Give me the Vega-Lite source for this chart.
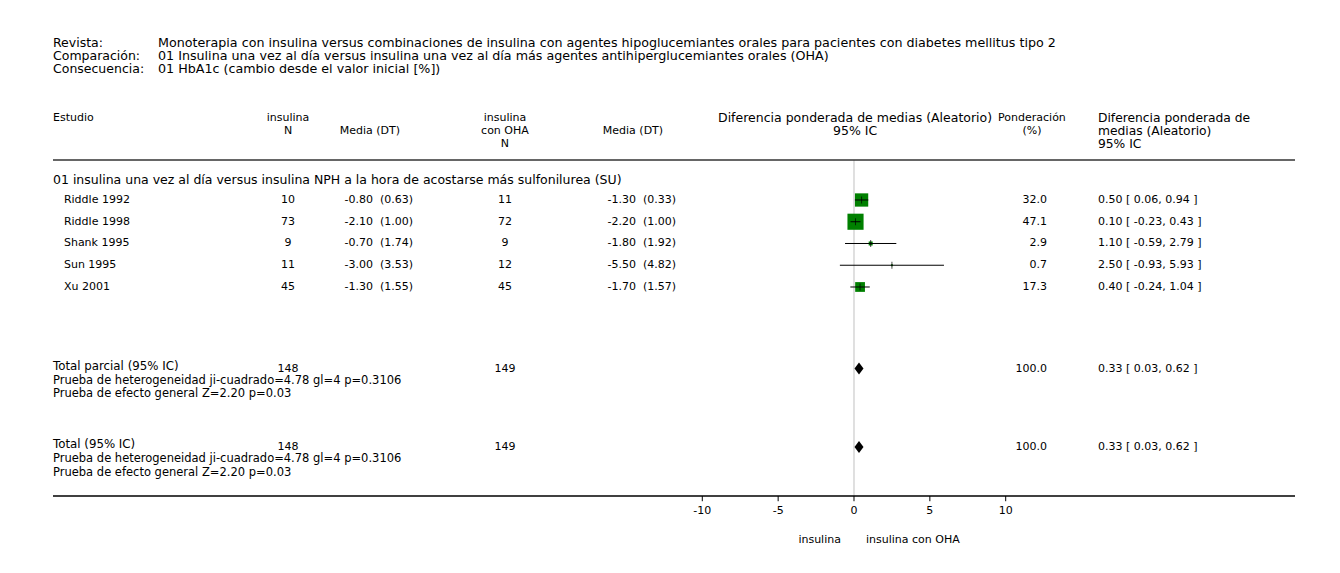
{
  "$schema": "https://vega.github.io/schema/vega-lite/v6.json",
  "width": 1242,
  "height": 496,
  "autosize": {"type": "none"},
  "padding": {"left": 53, "right": 45, "top": 0, "bottom": 77},
  "background": "white",
  "config": {
    "view": {"stroke": null},
    "text": {"font": "DejaVu Sans", "fontSize": 11, "color": "#000000", "baseline": "middle"}
  },
  "datasets": {
    "rows": [
      {"kind": "study", "row": 1, "name": "Riddle 1992", "n1": "10", "m1": "-0.80", "s1": "(0.63)", "n2": "11", "m2": "-1.30", "s2": "(0.33)", "wtxt": "32.0", "weight": 32.0, "est": 0.50, "lo": 0.06, "hi": 0.94, "ci": "0.50 [ 0.06, 0.94 ]"},
      {"kind": "study", "row": 2, "name": "Riddle 1998", "n1": "73", "m1": "-2.10", "s1": "(1.00)", "n2": "72", "m2": "-2.20", "s2": "(1.00)", "wtxt": "47.1", "weight": 47.1, "est": 0.10, "lo": -0.23, "hi": 0.43, "ci": "0.10 [ -0.23, 0.43 ]"},
      {"kind": "study", "row": 3, "name": "Shank 1995", "n1": "9", "m1": "-0.70", "s1": "(1.74)", "n2": "9", "m2": "-1.80", "s2": "(1.92)", "wtxt": "2.9", "weight": 2.9, "est": 1.10, "lo": -0.59, "hi": 2.79, "ci": "1.10 [ -0.59, 2.79 ]"},
      {"kind": "study", "row": 4, "name": "Sun 1995", "n1": "11", "m1": "-3.00", "s1": "(3.53)", "n2": "12", "m2": "-5.50", "s2": "(4.82)", "wtxt": "0.7", "weight": 0.7, "est": 2.50, "lo": -0.93, "hi": 5.93, "ci": "2.50 [ -0.93, 5.93 ]"},
      {"kind": "study", "row": 5, "name": "Xu 2001", "n1": "45", "m1": "-1.30", "s1": "(1.55)", "n2": "45", "m2": "-1.70", "s2": "(1.57)", "wtxt": "17.3", "weight": 17.3, "est": 0.40, "lo": -0.24, "hi": 1.04, "ci": "0.40 [ -0.24, 1.04 ]"},
      {"kind": "total", "row": 8.75, "name": "Total parcial (95% IC)", "n1": "148", "m1": "", "s1": "", "n2": "149", "m2": "", "s2": "", "wtxt": "100.0", "weight": 100.0, "est": 0.33, "lo": 0.03, "hi": 0.62, "ci": "0.33 [ 0.03, 0.62 ]"},
      {"kind": "total", "row": 12.36, "name": "Total (95% IC)", "n1": "148", "m1": "", "s1": "", "n2": "149", "m2": "", "s2": "", "wtxt": "100.0", "weight": 100.0, "est": 0.33, "lo": 0.03, "hi": 0.62, "ci": "0.33 [ 0.03, 0.62 ]"}
    ],
    "ticks": [
      {"tick": -10, "label": "-10"},
      {"tick": -5, "label": "-5"},
      {"tick": 0, "label": "0"},
      {"tick": 5, "label": "5"},
      {"tick": 10, "label": "10"}
    ],
    "lines": [
      {"row": -6.22, "col": "lab", "text": "Revista:"},
      {"row": -6.22, "col": "tit", "text": "Monoterapia con insulina versus combinaciones de insulina con agentes hipoglucemiantes orales para pacientes con diabetes mellitus tipo 2"},
      {"row": -5.62, "col": "lab", "text": "Comparación:"},
      {"row": -5.62, "col": "tit", "text": "01 Insulina una vez al día versus insulina una vez al día más agentes antihiperglucemiantes orales (OHA)"},
      {"row": -5.02, "col": "lab", "text": "Consecuencia:"},
      {"row": -5.02, "col": "tit", "text": "01 HbA1c (cambio desde el valor inicial [%])"},
      {"row": -2.77, "col": "est", "text": "Estudio"},
      {"row": -2.77, "col": "n1h", "text": "insulina"},
      {"row": -2.17, "col": "n1h", "text": "N"},
      {"row": -2.17, "col": "m1h", "text": "Media (DT)"},
      {"row": -2.77, "col": "n2h", "text": "insulina"},
      {"row": -2.17, "col": "n2h", "text": "con OHA"},
      {"row": -1.58, "col": "n2h", "text": "N"},
      {"row": -2.17, "col": "m2h", "text": "Media (DT)"},
      {"row": -2.77, "col": "fh", "text": "Diferencia ponderada de medias (Aleatorio)"},
      {"row": -2.17, "col": "fh", "text": "95% IC"},
      {"row": -2.77, "col": "wh", "text": "Ponderación"},
      {"row": -2.17, "col": "wh", "text": "(%)"},
      {"row": -2.77, "col": "cih", "text": "Diferencia ponderada de"},
      {"row": -2.17, "col": "cih", "text": "medias (Aleatorio)"},
      {"row": -1.58, "col": "cih", "text": "95% IC"},
      {"row": 0.08, "col": "lab", "text": "01 insulina una vez al día versus insulina NPH a la hora de acostarse más sulfonilurea (SU)"},
      {"row": 9.3, "col": "test", "text": "Prueba de heterogeneidad ji-cuadrado=4.78 gl=4 p=0.3106"},
      {"row": 9.94, "col": "test", "text": "Prueba de efecto general Z=2.20 p=0.03"},
      {"row": 12.93, "col": "test", "text": "Prueba de heterogeneidad ji-cuadrado=4.78 gl=4 p=0.3106"},
      {"row": 13.57, "col": "test", "text": "Prueba de efecto general Z=2.20 p=0.03"},
      {"row": 16.63, "col": "dirL", "text": "insulina"},
      {"row": 16.63, "col": "dirR", "text": "insulina con OHA"}
    ]
  },
  "layer": [
    {
      "data": {"name": "ticks"},
      "transform": [{"filter": "datum.tick === 0"}],
      "mark": {"type": "rule", "color": "#c0c0c0", "strokeWidth": 1},
      "encoding": {
        "x": {"field": "tick", "type": "quantitative", "scale": {"domain": [-52.8, 29.07], "nice": false, "zero": false}, "axis": null},
        "y": {"datum": -0.839, "type": "quantitative", "scale": {"domain": [-8.195, 14.61], "reverse": true, "nice": false, "zero": false}, "axis": null},
        "y2": {"datum": 14.61}
      }
    },
    {
      "data": {"name": "ticks"},
      "transform": [{"filter": "datum.tick === 0"}],
      "mark": {"type": "rule", "color": "#333333", "strokeWidth": 1.6},
      "encoding": {
        "x": {"datum": -52.8, "type": "quantitative", "scale": {"domain": [-52.8, 29.07], "nice": false, "zero": false}, "axis": null},
        "x2": {"datum": 29.07},
        "y": {"datum": -0.839, "type": "quantitative", "scale": {"domain": [-8.195, 14.61], "reverse": true, "nice": false, "zero": false}, "axis": null}
      }
    },
    {
      "data": {"name": "ticks"},
      "transform": [{"filter": "datum.tick === 0"}],
      "mark": {"type": "rule", "color": "#000000", "strokeWidth": 1.6},
      "encoding": {
        "x": {"datum": -52.8, "type": "quantitative", "scale": {"domain": [-52.8, 29.07], "nice": false, "zero": false}, "axis": null},
        "x2": {"datum": 29.07},
        "y": {"datum": 14.61, "type": "quantitative", "scale": {"domain": [-8.195, 14.61], "reverse": true, "nice": false, "zero": false}, "axis": null}
      }
    },
    {
      "data": {"name": "ticks"},
      "mark": {"type": "rule", "color": "#000000", "strokeWidth": 1},
      "encoding": {
        "x": {"field": "tick", "type": "quantitative", "scale": {"domain": [-52.8, 29.07], "nice": false, "zero": false}, "axis": null},
        "y": {"datum": 14.61, "type": "quantitative", "scale": {"domain": [-8.195, 14.61], "reverse": true, "nice": false, "zero": false}, "axis": null},
        "y2": {"datum": 14.85}
      }
    },
    {
      "data": {"name": "ticks"},
      "mark": {"type": "text", "align": "center"},
      "encoding": {
        "x": {"field": "tick", "type": "quantitative", "scale": {"domain": [-52.8, 29.07], "nice": false, "zero": false}, "axis": null},
        "y": {"datum": 15.3, "type": "quantitative", "scale": {"domain": [-8.195, 14.61], "reverse": true, "nice": false, "zero": false}, "axis": null},
        "text": {"field": "label"}
      }
    },
    {
      "data": {"name": "rows"},
      "transform": [{"filter": "datum.kind === 'study'"}],
      "mark": {"type": "square", "color": "#008000", "opacity": 1, "filled": true},
      "encoding": {
        "x": {"field": "est", "type": "quantitative", "scale": {"domain": [-52.8, 29.07], "nice": false, "zero": false}, "axis": null},
        "y": {"field": "row", "type": "quantitative", "scale": {"domain": [-8.195, 14.61], "reverse": true, "nice": false, "zero": false}, "axis": null},
        "size": {"field": "weight", "type": "quantitative", "scale": {"domain": [0, 47.1], "range": [0, 260]}, "legend": null}
      }
    },
    {
      "data": {"name": "rows"},
      "transform": [{"filter": "datum.kind === 'study'"}],
      "mark": {"type": "rule", "color": "#000000", "strokeWidth": 1},
      "encoding": {
        "x": {"field": "lo", "type": "quantitative", "scale": {"domain": [-52.8, 29.07], "nice": false, "zero": false}, "axis": null},
        "x2": {"field": "hi"},
        "y": {"field": "row", "type": "quantitative", "scale": {"domain": [-8.195, 14.61], "reverse": true, "nice": false, "zero": false}, "axis": null}
      }
    },
    {
      "data": {"name": "rows"},
      "transform": [{"filter": "datum.kind === 'study'"}],
      "mark": {"type": "tick", "orient": "vertical", "color": "#000000", "size": 7, "thickness": 1},
      "encoding": {
        "x": {"field": "est", "type": "quantitative", "scale": {"domain": [-52.8, 29.07], "nice": false, "zero": false}, "axis": null},
        "y": {"field": "row", "type": "quantitative", "scale": {"domain": [-8.195, 14.61], "reverse": true, "nice": false, "zero": false}, "axis": null}
      }
    },
    {
      "data": {"name": "rows"},
      "transform": [{"filter": "datum.kind === 'total'"}],
      "mark": {"type": "point", "shape": "M0,-1L0.75,0L0,1L-0.75,0Z", "size": 144, "filled": true, "color": "#000000", "opacity": 1},
      "encoding": {
        "x": {"field": "est", "type": "quantitative", "scale": {"domain": [-52.8, 29.07], "nice": false, "zero": false}, "axis": null},
        "y": {"field": "row", "type": "quantitative", "scale": {"domain": [-8.195, 14.61], "reverse": true, "nice": false, "zero": false}, "axis": null}
      }
    },
    {
      "data": {"name": "rows"},
      "transform": [{"filter": "datum.kind === 'study'"}],
      "mark": {"type": "text", "align": "left"},
      "encoding": {
        "x": {"datum": -52.08, "type": "quantitative", "scale": {"domain": [-52.8, 29.07], "nice": false, "zero": false}, "axis": null},
        "y": {"field": "row", "type": "quantitative", "scale": {"domain": [-8.195, 14.61], "reverse": true, "nice": false, "zero": false}, "axis": null},
        "text": {"field": "name"}
      }
    },
    {
      "data": {"name": "rows"},
      "transform": [{"filter": "datum.kind === 'total'"}],
      "mark": {"type": "text", "align": "left", "fontSize": 11.8, "dy": -3},
      "encoding": {
        "x": {"datum": -52.8, "type": "quantitative", "scale": {"domain": [-52.8, 29.07], "nice": false, "zero": false}, "axis": null},
        "y": {"field": "row", "type": "quantitative", "scale": {"domain": [-8.195, 14.61], "reverse": true, "nice": false, "zero": false}, "axis": null},
        "text": {"field": "name"}
      }
    },
    {
      "data": {"name": "rows"},
      "mark": {"type": "text", "align": "center"},
      "encoding": {
        "x": {"datum": -37.31, "type": "quantitative", "scale": {"domain": [-52.8, 29.07], "nice": false, "zero": false}, "axis": null},
        "y": {"field": "row", "type": "quantitative", "scale": {"domain": [-8.195, 14.61], "reverse": true, "nice": false, "zero": false}, "axis": null},
        "text": {"field": "n1"}
      }
    },
    {
      "data": {"name": "rows"},
      "mark": {"type": "text", "align": "right"},
      "encoding": {
        "x": {"datum": -31.71, "type": "quantitative", "scale": {"domain": [-52.8, 29.07], "nice": false, "zero": false}, "axis": null},
        "y": {"field": "row", "type": "quantitative", "scale": {"domain": [-8.195, 14.61], "reverse": true, "nice": false, "zero": false}, "axis": null},
        "text": {"field": "m1"}
      }
    },
    {
      "data": {"name": "rows"},
      "mark": {"type": "text", "align": "left"},
      "encoding": {
        "x": {"datum": -31.25, "type": "quantitative", "scale": {"domain": [-52.8, 29.07], "nice": false, "zero": false}, "axis": null},
        "y": {"field": "row", "type": "quantitative", "scale": {"domain": [-8.195, 14.61], "reverse": true, "nice": false, "zero": false}, "axis": null},
        "text": {"field": "s1"}
      }
    },
    {
      "data": {"name": "rows"},
      "mark": {"type": "text", "align": "center"},
      "encoding": {
        "x": {"datum": -23.01, "type": "quantitative", "scale": {"domain": [-52.8, 29.07], "nice": false, "zero": false}, "axis": null},
        "y": {"field": "row", "type": "quantitative", "scale": {"domain": [-8.195, 14.61], "reverse": true, "nice": false, "zero": false}, "axis": null},
        "text": {"field": "n2"}
      }
    },
    {
      "data": {"name": "rows"},
      "mark": {"type": "text", "align": "right"},
      "encoding": {
        "x": {"datum": -14.37, "type": "quantitative", "scale": {"domain": [-52.8, 29.07], "nice": false, "zero": false}, "axis": null},
        "y": {"field": "row", "type": "quantitative", "scale": {"domain": [-8.195, 14.61], "reverse": true, "nice": false, "zero": false}, "axis": null},
        "text": {"field": "m2"}
      }
    },
    {
      "data": {"name": "rows"},
      "mark": {"type": "text", "align": "left"},
      "encoding": {
        "x": {"datum": -13.91, "type": "quantitative", "scale": {"domain": [-52.8, 29.07], "nice": false, "zero": false}, "axis": null},
        "y": {"field": "row", "type": "quantitative", "scale": {"domain": [-8.195, 14.61], "reverse": true, "nice": false, "zero": false}, "axis": null},
        "text": {"field": "s2"}
      }
    },
    {
      "data": {"name": "rows"},
      "mark": {"type": "text", "align": "right"},
      "encoding": {
        "x": {"datum": 12.72, "type": "quantitative", "scale": {"domain": [-52.8, 29.07], "nice": false, "zero": false}, "axis": null},
        "y": {"field": "row", "type": "quantitative", "scale": {"domain": [-8.195, 14.61], "reverse": true, "nice": false, "zero": false}, "axis": null},
        "text": {"field": "wtxt"}
      }
    },
    {
      "data": {"name": "rows"},
      "mark": {"type": "text", "align": "left"},
      "encoding": {
        "x": {"datum": 16.08, "type": "quantitative", "scale": {"domain": [-52.8, 29.07], "nice": false, "zero": false}, "axis": null},
        "y": {"field": "row", "type": "quantitative", "scale": {"domain": [-8.195, 14.61], "reverse": true, "nice": false, "zero": false}, "axis": null},
        "text": {"field": "ci"}
      }
    },
    {
      "data": {"name": "lines"},
      "transform": [{"filter": "datum.col === 'lab'"}],
      "mark": {"type": "text", "align": "left", "fontSize": 12.5},
      "encoding": {
        "x": {"datum": -52.8, "type": "quantitative", "scale": {"domain": [-52.8, 29.07], "nice": false, "zero": false}, "axis": null},
        "y": {"field": "row", "type": "quantitative", "scale": {"domain": [-8.195, 14.61], "reverse": true, "nice": false, "zero": false}, "axis": null},
        "text": {"field": "text"}
      }
    },
    {
      "data": {"name": "lines"},
      "transform": [{"filter": "datum.col === 'est'"}],
      "mark": {"type": "text", "align": "left"},
      "encoding": {
        "x": {"datum": -52.8, "type": "quantitative", "scale": {"domain": [-52.8, 29.07], "nice": false, "zero": false}, "axis": null},
        "y": {"field": "row", "type": "quantitative", "scale": {"domain": [-8.195, 14.61], "reverse": true, "nice": false, "zero": false}, "axis": null},
        "text": {"field": "text"}
      }
    },
    {
      "data": {"name": "lines"},
      "transform": [{"filter": "datum.col === 'test'"}],
      "mark": {"type": "text", "align": "left", "fontSize": 11.5},
      "encoding": {
        "x": {"datum": -52.8, "type": "quantitative", "scale": {"domain": [-52.8, 29.07], "nice": false, "zero": false}, "axis": null},
        "y": {"field": "row", "type": "quantitative", "scale": {"domain": [-8.195, 14.61], "reverse": true, "nice": false, "zero": false}, "axis": null},
        "text": {"field": "text"}
      }
    },
    {
      "data": {"name": "lines"},
      "transform": [{"filter": "datum.col === 'tit'"}],
      "mark": {"type": "text", "align": "left", "fontSize": 12.7},
      "encoding": {
        "x": {"datum": -45.88, "type": "quantitative", "scale": {"domain": [-52.8, 29.07], "nice": false, "zero": false}, "axis": null},
        "y": {"field": "row", "type": "quantitative", "scale": {"domain": [-8.195, 14.61], "reverse": true, "nice": false, "zero": false}, "axis": null},
        "text": {"field": "text"}
      }
    },
    {
      "data": {"name": "lines"},
      "transform": [{"filter": "datum.col === 'n1h'"}],
      "mark": {"type": "text", "align": "center"},
      "encoding": {
        "x": {"datum": -37.31, "type": "quantitative", "scale": {"domain": [-52.8, 29.07], "nice": false, "zero": false}, "axis": null},
        "y": {"field": "row", "type": "quantitative", "scale": {"domain": [-8.195, 14.61], "reverse": true, "nice": false, "zero": false}, "axis": null},
        "text": {"field": "text"}
      }
    },
    {
      "data": {"name": "lines"},
      "transform": [{"filter": "datum.col === 'm1h'"}],
      "mark": {"type": "text", "align": "center"},
      "encoding": {
        "x": {"datum": -31.91, "type": "quantitative", "scale": {"domain": [-52.8, 29.07], "nice": false, "zero": false}, "axis": null},
        "y": {"field": "row", "type": "quantitative", "scale": {"domain": [-8.195, 14.61], "reverse": true, "nice": false, "zero": false}, "axis": null},
        "text": {"field": "text"}
      }
    },
    {
      "data": {"name": "lines"},
      "transform": [{"filter": "datum.col === 'n2h'"}],
      "mark": {"type": "text", "align": "center"},
      "encoding": {
        "x": {"datum": -23.01, "type": "quantitative", "scale": {"domain": [-52.8, 29.07], "nice": false, "zero": false}, "axis": null},
        "y": {"field": "row", "type": "quantitative", "scale": {"domain": [-8.195, 14.61], "reverse": true, "nice": false, "zero": false}, "axis": null},
        "text": {"field": "text"}
      }
    },
    {
      "data": {"name": "lines"},
      "transform": [{"filter": "datum.col === 'm2h'"}],
      "mark": {"type": "text", "align": "center"},
      "encoding": {
        "x": {"datum": -14.57, "type": "quantitative", "scale": {"domain": [-52.8, 29.07], "nice": false, "zero": false}, "axis": null},
        "y": {"field": "row", "type": "quantitative", "scale": {"domain": [-8.195, 14.61], "reverse": true, "nice": false, "zero": false}, "axis": null},
        "text": {"field": "text"}
      }
    },
    {
      "data": {"name": "lines"},
      "transform": [{"filter": "datum.col === 'fh'"}],
      "mark": {"type": "text", "align": "center", "fontSize": 12.5},
      "encoding": {
        "x": {"datum": 0.07, "type": "quantitative", "scale": {"domain": [-52.8, 29.07], "nice": false, "zero": false}, "axis": null},
        "y": {"field": "row", "type": "quantitative", "scale": {"domain": [-8.195, 14.61], "reverse": true, "nice": false, "zero": false}, "axis": null},
        "text": {"field": "text"}
      }
    },
    {
      "data": {"name": "lines"},
      "transform": [{"filter": "datum.col === 'wh'"}],
      "mark": {"type": "text", "align": "center"},
      "encoding": {
        "x": {"datum": 11.73, "type": "quantitative", "scale": {"domain": [-52.8, 29.07], "nice": false, "zero": false}, "axis": null},
        "y": {"field": "row", "type": "quantitative", "scale": {"domain": [-8.195, 14.61], "reverse": true, "nice": false, "zero": false}, "axis": null},
        "text": {"field": "text"}
      }
    },
    {
      "data": {"name": "lines"},
      "transform": [{"filter": "datum.col === 'cih'"}],
      "mark": {"type": "text", "align": "left", "fontSize": 12.3},
      "encoding": {
        "x": {"datum": 16.08, "type": "quantitative", "scale": {"domain": [-52.8, 29.07], "nice": false, "zero": false}, "axis": null},
        "y": {"field": "row", "type": "quantitative", "scale": {"domain": [-8.195, 14.61], "reverse": true, "nice": false, "zero": false}, "axis": null},
        "text": {"field": "text"}
      }
    },
    {
      "data": {"name": "lines"},
      "transform": [{"filter": "datum.col === 'dirL'"}],
      "mark": {"type": "text", "align": "right"},
      "encoding": {
        "x": {"datum": -0.86, "type": "quantitative", "scale": {"domain": [-52.8, 29.07], "nice": false, "zero": false}, "axis": null},
        "y": {"field": "row", "type": "quantitative", "scale": {"domain": [-8.195, 14.61], "reverse": true, "nice": false, "zero": false}, "axis": null},
        "text": {"field": "text"}
      }
    },
    {
      "data": {"name": "lines"},
      "transform": [{"filter": "datum.col === 'dirR'"}],
      "mark": {"type": "text", "align": "left"},
      "encoding": {
        "x": {"datum": 0.79, "type": "quantitative", "scale": {"domain": [-52.8, 29.07], "nice": false, "zero": false}, "axis": null},
        "y": {"field": "row", "type": "quantitative", "scale": {"domain": [-8.195, 14.61], "reverse": true, "nice": false, "zero": false}, "axis": null},
        "text": {"field": "text"}
      }
    }
  ]
}
